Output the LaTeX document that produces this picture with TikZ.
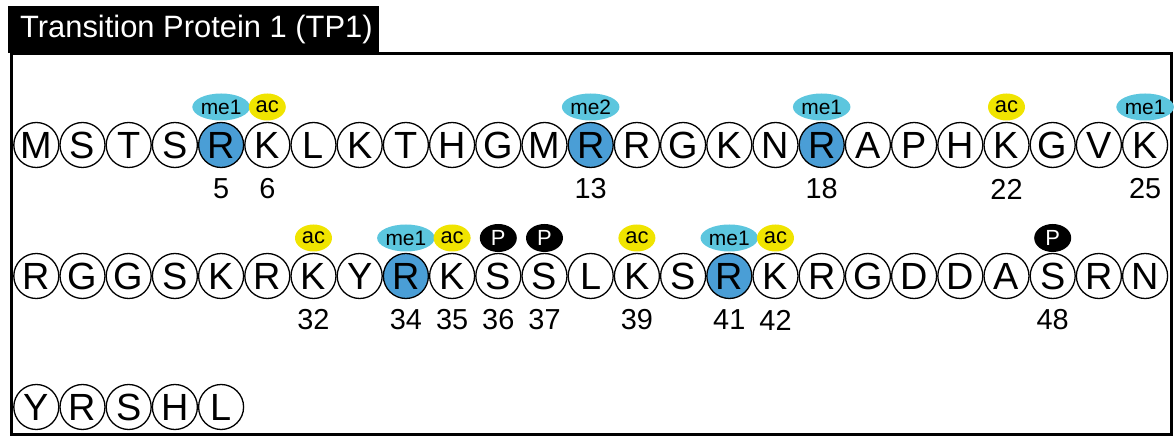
\documentclass[tikz,border=0pt]{standalone}
\usepackage{fontspec}
\setmainfont{Liberation Sans}
\usetikzlibrary{shapes.geometric}
\definecolor{meblue}{RGB}{92,198,222}
\definecolor{argfill}{RGB}{74,158,214}
\definecolor{acyellow}{RGB}{240,228,0}
\tikzset{
  residue/.style={circle, draw, line width=1.3bp, minimum size=45bp, inner sep=0pt,
    font=\fontsize{38}{38}\selectfont},
  argres/.style={residue, fill=argfill},
  modtag/.style={ellipse, inner sep=0pt, draw=none},
  meth/.style={modtag, fill=meblue, minimum width=53bp, minimum height=27bp,
    font=\fontsize{21}{21}\selectfont},
  acet/.style={modtag, fill=acyellow, minimum width=37bp, minimum height=27bp,
    font=\fontsize{22}{22}\selectfont},
  phos/.style={modtag, fill=black, text=white, minimum width=37bp, minimum height=28bp,
    font=\fontsize{22}{22}\selectfont},
  posnum/.style={inner sep=0pt, font=\fontsize{29}{29}\selectfont},
}
\begin{document}
\begin{tikzpicture}[x=1bp,y=-1bp]
\useasboundingbox (0,0) rectangle (1176,437);

% outer frame and title bar
\draw[line width=3bp] (11.5,53.5) rectangle (1171.5,435);
\node (titlebar) [anchor=north west, fill=black, inner sep=0pt,
  minimum width=371bp, minimum height=47bp] at (8,6) {};
\node (titletext) [anchor=base west, inner sep=0pt, text=white,
  font=\fontsize{31}{31}\selectfont] at (20,38) {Transition Protein 1 (TP1)};

% residues, 25 per row
\foreach \s [count=\i] in {M,S,T,S,R,K,L,K,T,H,G,M,R,R,G,K,N,R,A,P,H,K,G,V,K,
                           R,G,G,S,K,R,K,Y,R,K,S,S,L,K,S,R,K,R,G,D,D,A,S,R,N,
                           Y,R,S,H,L} {
  \pgfmathtruncatemacro\col{mod(\i-1,25)}
  \pgfmathtruncatemacro\row{(\i-1)/25}
  \pgfmathtruncatemacro\isme{(\i==5)||(\i==13)||(\i==18)||(\i==34)||(\i==41)}
  \ifnum\isme=1 \def\rstyle{argres}\else\def\rstyle{residue}\fi
  \node[\rstyle] (r\i) at (36.3+46.2*\col, 145+131*\row) {\s};
}

% modification tags
\foreach \i/\t/\k in {5/me1/meth, 6/ac/acet, 13/me2/meth, 18/me1/meth, 22/ac/acet,
                      25/me1/meth, 32/ac/acet, 34/me1/meth, 35/ac/acet, 36/P/phos,
                      37/P/phos, 39/ac/acet, 41/me1/meth, 42/ac/acet, 48/P/phos}
  \node[\k] (m\i) at ([yshift=38bp]r\i.center) {\t};

% position numbers
\foreach \i in {5,6,13,18,22,25,32,34,35,36,37,39,41,42,48}
  \node[posnum] (n\i) at ([yshift=-44bp]r\i.center) {\i};
\end{tikzpicture}
\end{document}
